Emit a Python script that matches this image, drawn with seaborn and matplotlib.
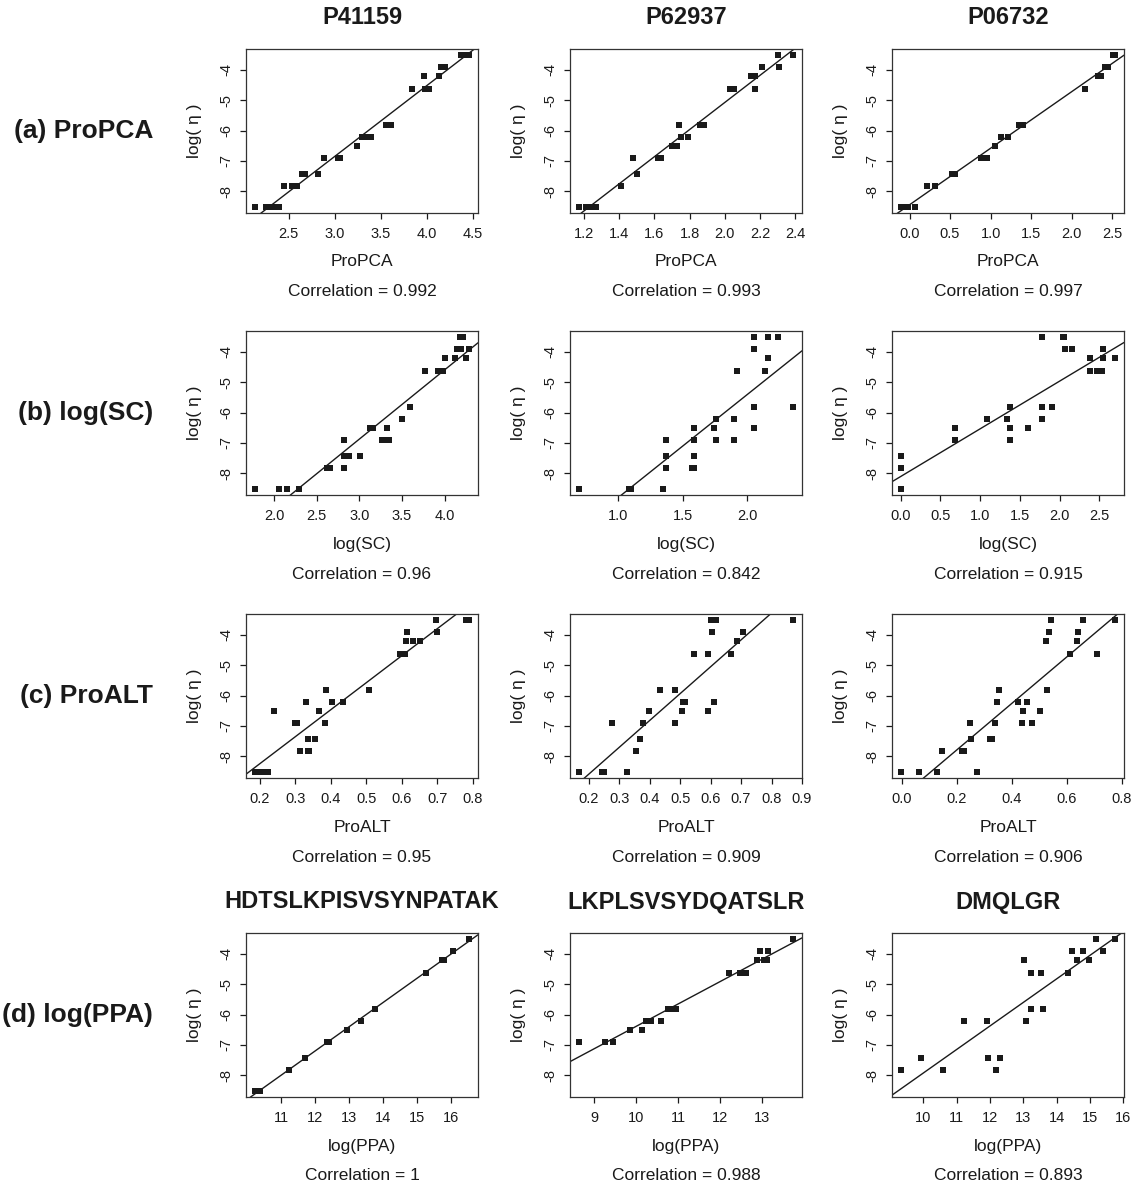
import numpy as np
import pandas as pd
import matplotlib
matplotlib.use("Agg")
import matplotlib.pyplot as plt
import seaborn as sns

# ---- log(eta) levels (shared y values) ----
A, B, C, D, E, F, G, H, I, J, K = (-8.52, -7.83, -7.42, -6.91, -6.51, -6.21,
                                   -5.81, -4.62, -4.21, -3.91, -3.51)

# ---- row / column labels ----
row_labels = ["(a) ProPCA", "(b) log(SC)", "(c) ProALT", "(d) log(PPA)"]
x_labels = ["ProPCA", "log(SC)", "ProALT", "log(PPA)"]
top_titles = ["P41159", "P62937", "P06732"]
bottom_titles = ["HDTSLKPISVSYNPATAK", "LKPLSVSYDQATSLR", "DMQLGR"]
y_label = "log( η )"

correlations = [["0.992", "0.993", "0.997"],
                ["0.96", "0.842", "0.915"],
                ["0.95", "0.909", "0.906"],
                ["1", "0.988", "0.893"]]

# ---- (a) ProPCA ----
x_a1 = [2.13, 2.25, 2.28, 2.31, 2.34, 2.37, 2.39, 2.45, 2.54, 2.59, 2.64, 2.68, 2.82,
        2.88, 3.04, 3.06, 3.24, 3.29, 3.36, 3.39, 3.56, 3.61, 3.84, 3.97, 3.98, 4.02,
        4.13, 4.15, 4.19, 4.37, 4.40, 4.43, 4.46]
y_a1 = [A, A, A, A, A, A, A, B, B, B, C, C, C, D, D, D, E, F, F, F, G, G, H, I, H, H,
        I, J, J, K, K, K, K]
x_a2 = [1.17, 1.21, 1.23, 1.25, 1.27, 1.41, 1.48, 1.50, 1.62, 1.64, 1.70, 1.72, 1.73,
        1.74, 1.75, 1.79, 1.86, 1.88, 2.03, 2.05, 2.15, 2.17, 2.17, 2.21, 2.30, 2.31, 2.39]
y_a2 = [A, A, A, A, A, B, D, C, D, D, E, E, E, G, F, F, G, G, H, H, I, I, H, J, K, J, K]
x_a3 = [-0.11, -0.07, -0.02, 0.07, 0.21, 0.31, 0.52, 0.56, 0.88, 0.92, 0.95, 1.05,
        1.13, 1.22, 1.35, 1.40, 2.17, 2.32, 2.36, 2.41, 2.45, 2.51, 2.54]
y_a3 = [A, A, A, A, B, B, C, C, D, D, D, E, F, F, G, G, H, I, I, J, J, K, K]

# ---- (b) log(SC) ----
x_b1 = [1.77, 2.06, 2.15, 2.29, 2.62, 2.66, 2.82, 2.82, 2.82, 2.85, 2.88, 3.01, 3.12,
        3.16, 3.32, 3.26, 3.30, 3.35, 3.50, 3.59, 3.77, 3.92, 3.95, 3.98, 4.00, 4.12,
        4.15, 4.19, 4.18, 4.21, 4.25, 4.29]
y_b1 = [A, A, A, A, B, B, B, D, C, C, C, C, E, E, E, D, D, D, F, G, H, H, H, H, I, I,
        J, J, K, K, I, J]
x_b2 = [0.69, 1.08, 1.10, 1.35, 1.37, 1.37, 1.37, 1.585, 1.585, 1.585, 1.57, 1.59,
        1.745, 1.76, 1.76, 1.90, 1.90, 1.92, 2.05, 2.05, 2.05, 2.05, 2.14, 2.16, 2.16,
        2.24, 2.36]
y_b2 = [A, A, A, A, D, C, B, E, D, C, B, B, E, F, D, F, D, H, K, J, G, E, H, K, I, K, G]
x_b3 = [0.0, 0.0, 0.0, 0.0, 0.68, 0.68, 1.08, 1.34, 1.375, 1.375, 1.375, 1.38, 1.60,
        1.78, 1.78, 1.78, 1.90, 2.04, 2.06, 2.07, 2.16, 2.38, 2.38, 2.47, 2.50, 2.53,
        2.55, 2.55, 2.70]
y_b3 = [A, A, B, C, E, D, F, F, G, E, D, D, E, K, G, F, G, K, K, J, J, I, H, H, H, H,
        J, I, I]

# ---- (c) ProALT ----
x_c1 = [0.185, 0.197, 0.209, 0.222, 0.239, 0.300, 0.305, 0.314, 0.335, 0.338, 0.335,
        0.354, 0.331, 0.366, 0.382, 0.385, 0.403, 0.434, 0.507, 0.594, 0.602, 0.610,
        0.614, 0.612, 0.631, 0.652, 0.696, 0.699, 0.780, 0.790]
y_c1 = [A, A, A, A, E, D, D, B, B, B, C, C, F, E, D, G, F, F, G, H, H, H, J, I, I, I,
        K, J, K, K]
x_c2 = [0.167, 0.243, 0.252, 0.327, 0.276, 0.355, 0.368, 0.379, 0.398, 0.433, 0.484,
        0.484, 0.505, 0.509, 0.516, 0.547, 0.590, 0.590, 0.600, 0.617, 0.606, 0.612,
        0.666, 0.688, 0.707, 0.870]
y_c2 = [A, A, A, A, D, B, C, D, E, G, G, D, E, F, F, H, H, E, K, K, J, F, H, I, J, K]
x_c3 = [-0.004, 0.063, 0.128, 0.147, 0.219, 0.227, 0.247, 0.251, 0.275, 0.319, 0.328,
        0.340, 0.347, 0.355, 0.421, 0.436, 0.440, 0.454, 0.474, 0.504, 0.523, 0.528,
        0.534, 0.543, 0.610, 0.635, 0.641, 0.659, 0.710, 0.776]
y_c3 = [A, A, A, B, B, B, D, C, A, C, C, D, F, G, F, D, E, F, D, E, I, G, J, K, H, I,
        J, K, H, K]

# ---- (d) log(PPA) ----
x_d1 = [10.22, 10.37, 11.24, 11.70, 12.35, 12.41, 12.93, 13.34, 13.76, 15.25, 15.73,
        15.78, 16.05, 16.54]
y_d1 = [A, A, B, C, D, D, E, F, G, H, I, I, J, K]
x_d2 = [8.62, 9.24, 9.44, 9.86, 10.14, 10.23, 10.35, 10.58, 10.75, 10.88, 10.96, 12.21,
        12.49, 12.63, 12.90, 12.96, 13.06, 13.14, 13.16, 13.76]
y_d2 = [D, D, D, E, E, F, F, F, G, G, G, H, H, H, I, J, I, I, J, K]
x_d3 = [9.32, 9.93, 10.58, 11.23, 11.91, 11.93, 12.17, 12.30, 13.03, 13.07, 13.22,
        13.22, 13.52, 13.60, 14.34, 14.45, 14.60, 14.80, 14.96, 15.17, 15.38, 15.76]
y_d3 = [B, C, B, F, F, C, B, C, I, F, H, G, H, G, H, J, I, J, I, K, J, K]

# ---- tick values ----
x_ticks = [
    [[2.5, 3.0, 3.5, 4.0, 4.5], [1.2, 1.4, 1.6, 1.8, 2.0, 2.2, 2.4], [0.0, 0.5, 1.0, 1.5, 2.0, 2.5]],
    [[2.0, 2.5, 3.0, 3.5, 4.0], [1.0, 1.5, 2.0], [0.0, 0.5, 1.0, 1.5, 2.0, 2.5]],
    [[0.2, 0.3, 0.4, 0.5, 0.6, 0.7, 0.8], [0.2, 0.3, 0.4, 0.5, 0.6, 0.7, 0.8, 0.9],
     [0.0, 0.2, 0.4, 0.6, 0.8]],
    [[11, 12, 13, 14, 15, 16], [9, 10, 11, 12, 13], [10, 11, 12, 13, 14, 15, 16]],
]
x_tick_fmt = [["{:.1f}"] * 3, ["{:.1f}"] * 3, ["{:.1f}"] * 3, ["{:d}"] * 3]
y_ticks = [-8, -7, -6, -5, -4]

X = [[x_a1, x_a2, x_a3], [x_b1, x_b2, x_b3], [x_c1, x_c2, x_c3], [x_d1, x_d2, x_d3]]
Y = [[y_a1, y_a2, y_a3], [y_b1, y_b2, y_b3], [y_c1, y_c2, y_c3], [y_d1, y_d2, y_d3]]

# ---- style ----
sns.set_style("ticks")
plt.rcParams['font.family'] = ['Liberation Sans', 'DejaVu Sans']
plt.rcParams['axes.unicode_minus'] = False

W, Hpx = 1132, 1188
fig = plt.figure(figsize=(W / 100, Hpx / 100), dpi=100)

col_left = [246, 570, 892]
row_top = [49, 331, 614, 933]
pw, ph = 232, 164
PX = 0.72  # points per pixel at dpi 100

all_y = [v for row in Y for lst in row for v in lst]
yr = max(all_y) - min(all_y)
ylim = (min(all_y) - 0.04 * yr, max(all_y) + 0.04 * yr)

ink = "#1a1a1a"

for r in range(4):
    for c in range(3):
        x = np.array(X[r][c], dtype=float)
        y = np.array(Y[r][c], dtype=float)
        assert len(x) == len(y)
        df = pd.DataFrame({"x": x, "y": y})
        ax = fig.add_axes([col_left[c] / W, 1 - (row_top[r] + ph) / Hpx, pw / W, ph / Hpx])
        xr = x.max() - x.min()
        xlim = (x.min() - 0.04 * xr, x.max() + 0.04 * xr)
        ax.set_xlim(xlim)
        ax.set_ylim(ylim)
        sns.regplot(data=df, x="x", y="y", scatter=False, ci=None, truncate=False,
                    line_kws=dict(color=ink, lw=1.0), ax=ax)
        sns.scatterplot(data=df, x="x", y="y", marker="s", s=21, color=ink,
                        linewidth=0, ax=ax, zorder=3)
        ax.set_xlim(xlim)
        ax.set_ylim(ylim)
        ax.set_xlabel("")
        ax.set_ylabel("")
        ax.set_xticks(x_ticks[r][c])
        ax.set_xticklabels([x_tick_fmt[r][c].format(t) for t in x_ticks[r][c]])
        ax.set_yticks(y_ticks)
        ax.set_yticklabels([str(t) for t in y_ticks], rotation=90, va="center")
        ax.tick_params(axis="both", direction="out", length=6 * PX, width=0.9,
                       labelsize=10.5, color=ink, labelcolor=ink)
        ax.tick_params(axis="x", pad=6)
        ax.tick_params(axis="y", pad=5)
        for sp in ax.spines.values():
            sp.set_visible(True)
            sp.set_linewidth(0.9)
            sp.set_color("#333333")
        # x label and correlation text
        ax.annotate(x_labels[r], xy=(0.5, 0), xycoords="axes fraction",
                    xytext=(0, -49 * PX), textcoords="offset points",
                    ha="center", va="center", fontsize=12.5, color=ink)
        ax.annotate("Correlation = " + correlations[r][c], xy=(0.5, 0),
                    xycoords="axes fraction", xytext=(0, -79 * PX),
                    textcoords="offset points", ha="center", va="center",
                    fontsize=12.5, color=ink)
        ax.annotate(y_label, xy=(0, 0.5), xycoords="axes fraction",
                    xytext=(-51 * PX, 0), textcoords="offset points",
                    ha="center", va="center", rotation=90, fontsize=12.5, color=ink)
        if r == 0 or r == 3:
            title = top_titles[c] if r == 0 else bottom_titles[c]
            ax.annotate(title, xy=(0.5, 1), xycoords="axes fraction",
                        xytext=(0, 31 * PX), textcoords="offset points",
                        ha="center", va="center", fontsize=17, fontweight="bold",
                        color=ink)
    # row label
    yc = 1 - (row_top[r] + ph / 2) / Hpx
    fig.text(153 / W, yc, row_labels[r], ha="right", va="center", fontsize=19,
             fontweight="bold", color=ink)

fig.savefig("out.png", dpi=100, facecolor="white")
